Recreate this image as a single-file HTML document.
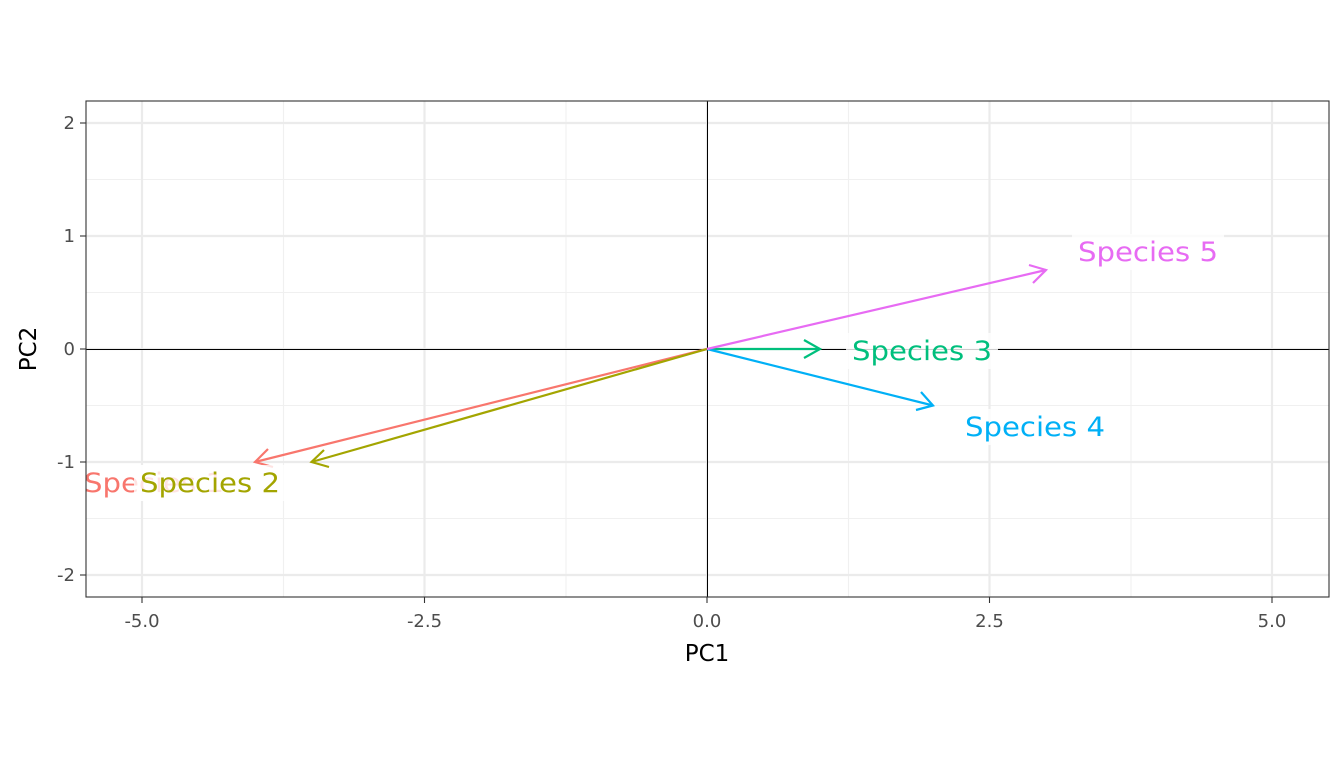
<!DOCTYPE html>
<html><head><style>body{margin:0;background:#fff}svg{display:block}</style></head>
<body>
<svg width="1344" height="768" xmlns="http://www.w3.org/2000/svg" font-family="DejaVu Sans, Liberation Sans, sans-serif">
<defs><clipPath id="c"><rect x="86" y="101" width="1243" height="496"/></clipPath></defs>
<rect x="86" y="101" width="1243" height="496" fill="#fff"/>
<g clip-path="url(#c)">
<g stroke="#f0f0f0" stroke-width="1.1">
<line x1="283.5" y1="101" x2="283.5" y2="597"/><line x1="566" y1="101" x2="566" y2="597"/>
<line x1="848.5" y1="101" x2="848.5" y2="597"/><line x1="1131" y1="101" x2="1131" y2="597"/>
<line x1="86" y1="179.5" x2="1329" y2="179.5"/><line x1="86" y1="292.5" x2="1329" y2="292.5"/>
<line x1="86" y1="405.5" x2="1329" y2="405.5"/><line x1="86" y1="518.5" x2="1329" y2="518.5"/>
</g>
<g stroke="#ebebeb" stroke-width="2.2">
<line x1="142" y1="101" x2="142" y2="597"/><line x1="424.5" y1="101" x2="424.5" y2="597"/>
<line x1="707" y1="101" x2="707" y2="597"/><line x1="989.5" y1="101" x2="989.5" y2="597"/>
<line x1="1272" y1="101" x2="1272" y2="597"/>
<line x1="86" y1="123" x2="1329" y2="123"/><line x1="86" y1="236" x2="1329" y2="236"/>
<line x1="86" y1="349" x2="1329" y2="349"/><line x1="86" y1="462" x2="1329" y2="462"/>
<line x1="86" y1="575" x2="1329" y2="575"/>
</g>
<line x1="707.5" y1="101" x2="707.5" y2="597" stroke="#000" stroke-width="1"/>
<line x1="86" y1="349.5" x2="1329" y2="349.5" stroke="#000" stroke-width="1"/>
<g fill="none" stroke-width="2.2">
<g stroke="#F8766D"><line x1="707" y1="349" x2="255" y2="462"/><polyline points="268,449 255,462 273,467"/></g>
<g stroke="#A3A500"><line x1="707" y1="349" x2="311.5" y2="462"/><polyline points="324,450 311.5,462 329,467"/></g>
<g stroke="#00BF7D"><line x1="707" y1="349" x2="820" y2="349"/><polyline points="804,340 820,349 804,358"/></g>
<g stroke="#00B0F6"><line x1="707" y1="349" x2="933" y2="405.5"/><polyline points="921,392 933,405.5 916,410"/></g>
<g stroke="#E76BF3"><line x1="707" y1="349" x2="1046" y2="270"/><polyline points="1029,265 1046,270 1033,283"/></g>
</g>
<g font-size="27" text-anchor="middle">
<rect x="78" y="465" width="152" height="36" fill="#fff" fill-opacity="0.8"/>
<text x="154" y="492" fill="#F8766D" textLength="140" lengthAdjust="spacingAndGlyphs">Species 1</text>
<rect x="134" y="465" width="152" height="36" fill="#fff" fill-opacity="0.8"/>
<text x="210" y="492" fill="#A3A500" textLength="140" lengthAdjust="spacingAndGlyphs">Species 2</text>
<rect x="846" y="333" width="152" height="36" fill="#fff" fill-opacity="0.8"/>
<text x="922" y="360" fill="#00BF7D" textLength="140" lengthAdjust="spacingAndGlyphs">Species 3</text>
<rect x="959" y="409" width="152" height="36" fill="#fff" fill-opacity="0.8"/>
<text x="1035" y="436" fill="#00B0F6" textLength="140" lengthAdjust="spacingAndGlyphs">Species 4</text>
<rect x="1072" y="234" width="152" height="36" fill="#fff" fill-opacity="0.8"/>
<text x="1148" y="261" fill="#E76BF3" textLength="140" lengthAdjust="spacingAndGlyphs">Species 5</text>
</g>
</g>
<rect x="86" y="101" width="1243" height="496" fill="none" stroke="#333" stroke-width="1.1"/>
<g stroke="#333" stroke-width="1.1">
<line x1="142" y1="597" x2="142" y2="603"/><line x1="424.5" y1="597" x2="424.5" y2="603"/>
<line x1="707" y1="597" x2="707" y2="603"/><line x1="989.5" y1="597" x2="989.5" y2="603"/>
<line x1="1272" y1="597" x2="1272" y2="603"/>
<line x1="80" y1="123" x2="86" y2="123"/><line x1="80" y1="236" x2="86" y2="236"/>
<line x1="80" y1="349" x2="86" y2="349"/><line x1="80" y1="462" x2="86" y2="462"/>
<line x1="80" y1="575" x2="86" y2="575"/>
</g>
<g font-size="18" fill="#4d4d4d">
<g text-anchor="middle">
<text x="142" y="627">-5.0</text><text x="424.5" y="627">-2.5</text><text x="707" y="627">0.0</text>
<text x="989.5" y="627">2.5</text><text x="1272" y="627">5.0</text>
</g>
<g text-anchor="end">
<text x="75" y="129">2</text><text x="75" y="242">1</text><text x="75" y="355">0</text>
<text x="75" y="468">-1</text><text x="75" y="581">-2</text>
</g>
</g>
<text x="707" y="661" font-size="23" text-anchor="middle" fill="#000">PC1</text>
<text x="36" y="349" font-size="23" text-anchor="middle" fill="#000" transform="rotate(-90 36 349)">PC2</text>
</svg>
</body></html>
